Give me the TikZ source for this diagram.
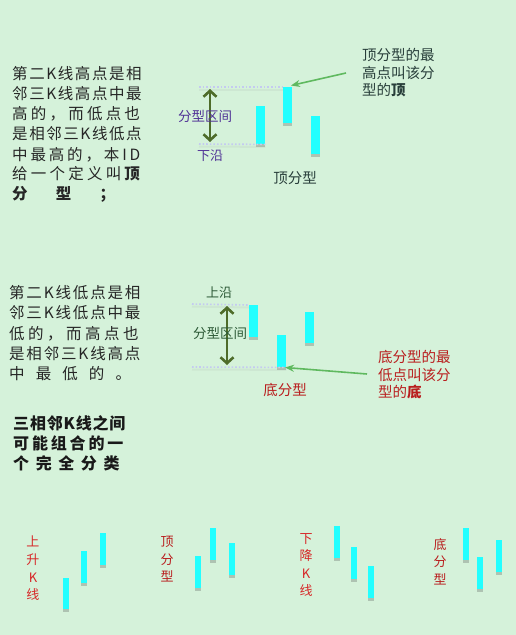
\documentclass[tikz,border=0pt]{standalone}
\usepackage{fontspec}
\setmainfont{Noto Sans CJK SC}
\usetikzlibrary{arrows.meta,shadows}
\definecolor{bg}{RGB}{213,242,218}
\definecolor{candlec}{RGB}{34,255,255}
\definecolor{darkolive}{RGB}{78,108,42}
\definecolor{annogreen}{RGB}{95,185,95}
\definecolor{slatetxt}{RGB}{40,62,58}
\definecolor{purpletxt}{RGB}{80,50,150}
\definecolor{greentxt}{RGB}{45,90,55}
\definecolor{redtxt}{RGB}{185,30,30}
\definecolor{brightred}{RGB}{215,40,40}
\definecolor{dotc}{RGB}{196,202,240}
\def\spA#1{#1\futurelet\spnext\spB}
\def\spB{\ifx\spnext\relax\expandafter\spGobble\else\hfil\expandafter\spA\fi}
\def\spGobble#1{}
\newcommand\jline[2]{\makebox[#1][l]{\spA#2\relax}}
\tikzset{
  candle/.style={fill=candlec,draw=none,inner sep=0pt,anchor=north west,
    drop shadow={shadow xshift=0pt,shadow yshift=-3pt,opacity=.28,fill=black!70}},
  bodytxt/.style={inner sep=0pt,anchor=west,text=black!85,font=\fontsize{15.5pt}{18pt}\selectfont},
  sidetxt/.style={inner sep=0pt,anchor=west,text=black!90,font=\fontsize{16pt}{18pt}\selectfont\bfseries},
  vlabel/.style={inner sep=0pt,align=center,font=\fontsize{13pt}{17.6pt}\selectfont},
  lbl/.style={inner sep=0pt,font=\fontsize{13.5pt}{16pt}\selectfont},
  anno/.style={inner sep=0pt,anchor=north west,align=left,font=\fontsize{14.5pt}{17.6pt}\selectfont},
  dotline/.style={dotc,dotted,line width=1.6pt,
    preaction={draw=black!40,solid,line width=2pt,opacity=.12,transform canvas={yshift=-2.5pt}}},
  rangearrow/.style={darkolive,line width=2.6pt,{Straight Barb[length=6pt,width=13pt]}-{Straight Barb[length=6pt,width=13pt]}},
  pointer/.style={annogreen,line width=1.6pt,-{Stealth[length=9pt,width=7pt]}}
}
\begin{document}
\begin{tikzpicture}[x=1pt,y=-1pt]
\useasboundingbox (0,0) rectangle (516,635);
\fill[bg] (0,0) rectangle (516,635);

% ---- block 1 text
\node[bodytxt] (a1) at (12,74) {\jline{131pt}{第二K线高点是相}};
\node[bodytxt] (a2) at (12,94) {\jline{131pt}{邻三K线高点中最}};
\node[bodytxt] (a3) at (12,114) {\jline{131pt}{高的，而低点也}};
\node[bodytxt] (a4) at (12,134) {\jline{131pt}{是相邻三K线低点}};
\node[bodytxt] (a5) at (12,155) {\jline{131pt}{中最高的，本ID}};
\node[bodytxt] (a6) at (12,174) {\jline{131pt}{给一个定义叫{\bfseries 顶}}};
\node[bodytxt] (a7) at (12,194) {\jline{131pt}{{\bfseries 分}{\bfseries 型}；}};

% ---- top fractal
\node[candle,minimum width=9pt,minimum height=38pt] (t1) at (256,106) {};
\node[candle,minimum width=9pt,minimum height=36pt] (t2) at (283,87) {};
\node[candle,minimum width=8.5pt,minimum height=38pt] (t3) at (311,116) {};
\coordinate (tl1) at (199,87);
\coordinate (tl2) at (199,144);
\draw[dotline] (tl1) -- (t2.north west);
\draw[dotline] (tl2) -- (t1.south east);
\coordinate (tr1) at (210,89);
\coordinate (tr2) at (210,142);
\draw[rangearrow] (tr1) -- (tr2);
\node[lbl,text=purpletxt] (tq) at (205,116) {分型区间};
\node[lbl,text=purpletxt,font=\fontsize{13pt}{16pt}\selectfont] (tx) at (210,156) {下沿};
\node[lbl,text=slatetxt,font=\fontsize{14.5pt}{16pt}\selectfont] (tn) at (295,178) {顶分型};
\node[anno,text=slatetxt] (tann) at (362,48) {顶分型的最\\高点叫该分\\型的{\bfseries 顶}};
\coordinate (tp1) at (346,73);
\coordinate (tp2) at (291,85.5);
\draw[pointer] (tp1) -- (tp2);

% ---- block 2 text
\node[bodytxt] (b1t) at (9,293) {\jline{133pt}{第二K线低点是相}};
\node[bodytxt] (b2t) at (9,313) {\jline{133pt}{邻三K线低点中最}};
\node[bodytxt] (b3t) at (9,334) {\jline{133pt}{低的，而高点也}};
\node[bodytxt] (b4t) at (9,354) {\jline{133pt}{是相邻三K线高点}};
\node[bodytxt] (b5t) at (9,374) {\jline{133pt}{中最低的。}};

% ---- block 3 text
\node[sidetxt] (c1t) at (13,423) {\jline{113pt}{三相邻K线之间}};
\node[sidetxt] (c2t) at (13,443) {\jline{113pt}{可能组合的一}};
\node[sidetxt] (c3t) at (13,463) {\jline{113pt}{个完全分类}};

% ---- bottom fractal
\node[candle,minimum width=9pt,minimum height=32pt] (b1) at (249,305) {};
\node[candle,minimum width=9pt,minimum height=32pt] (b2) at (277,335) {};
\node[candle,minimum width=9pt,minimum height=31pt] (b3) at (305,312) {};
\coordinate (bl1) at (192,304);
\coordinate (bl2) at (192,367);
\draw[dotline] (bl1) -- (b1.north west);
\draw[dotline] (bl2) -- (b2.south east);
\coordinate (br1) at (227,306);
\coordinate (br2) at (227,365);
\draw[rangearrow] (br1) -- (br2);
\node[lbl,text=greentxt,font=\fontsize{13pt}{16pt}\selectfont] (bx) at (219,293) {上沿};
\node[lbl,text=greentxt] (bq) at (220,333) {分型区间};
\node[lbl,text=redtxt,font=\fontsize{14.5pt}{16pt}\selectfont] (bn) at (285,390) {底分型};
\node[anno,text=redtxt] (bann) at (378,350) {底分型的最\\低点叫该分\\型的{\bfseries 底}};
\coordinate (bp1) at (367,374);
\coordinate (bp2) at (285,367.5);
\draw[pointer] (bp1) -- (bp2);

% ---- bottom row
\node[vlabel,text=brightred] (v1) at (33,568.5) {上\\升\\K\\线};
\node[candle,minimum width=6pt,minimum height=31pt] (u1) at (63,578) {};
\node[candle,minimum width=5.5pt,minimum height=32pt] (u2) at (81,551) {};
\node[candle,minimum width=5.5pt,minimum height=32pt] (u3) at (100,533) {};

\node[vlabel,text=redtxt] (v2) at (167,559.5) {顶\\分\\型};
\node[candle,minimum width=6pt,minimum height=32pt] (p1) at (195,556) {};
\node[candle,minimum width=6pt,minimum height=32pt] (p2) at (210,528) {};
\node[candle,minimum width=6pt,minimum height=32pt] (p3) at (229,543) {};

\node[vlabel,text=brightred] (v3) at (306,565) {下\\降\\K\\线};
\node[candle,minimum width=6pt,minimum height=32pt] (q1) at (334,526) {};
\node[candle,minimum width=6pt,minimum height=32pt] (q2) at (351,547) {};
\node[candle,minimum width=5.5pt,minimum height=32pt] (q3) at (368,566) {};

\node[vlabel,text=redtxt] (v4) at (440,561.5) {底\\分\\型};
\node[candle,minimum width=5.5pt,minimum height=32pt] (r1) at (463,528) {};
\node[candle,minimum width=6pt,minimum height=32pt] (r2) at (477,557) {};
\node[candle,minimum width=5.5pt,minimum height=32pt] (r3) at (496,540) {};
\end{tikzpicture}
\end{document}
